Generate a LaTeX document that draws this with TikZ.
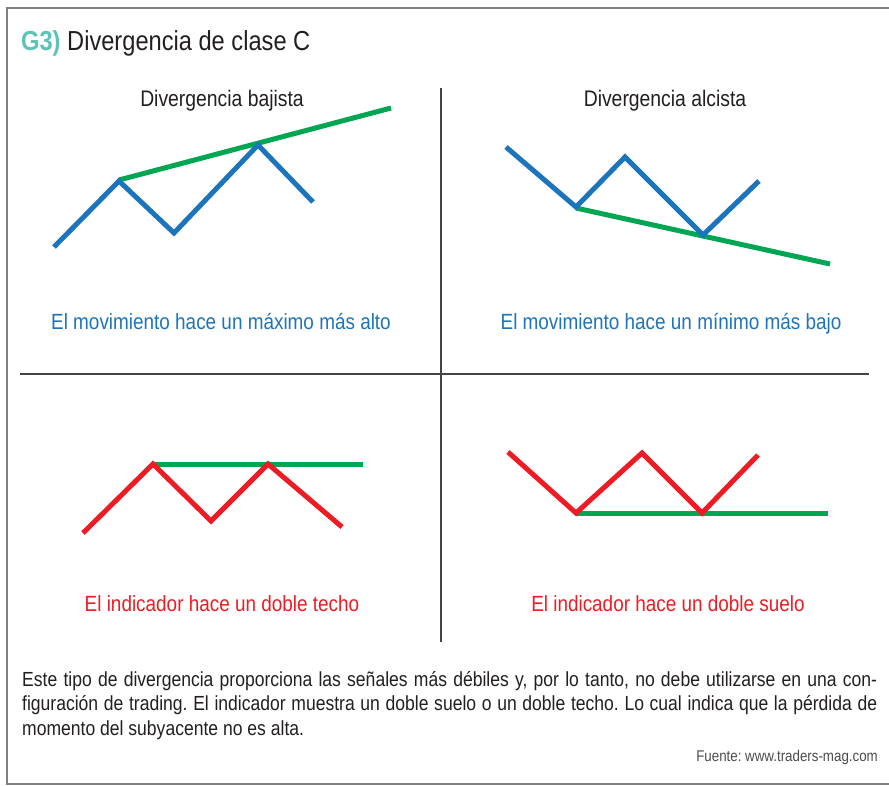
\documentclass[tikz,border=0pt]{standalone}
\usepackage{fontspec}
\setmainfont{Liberation Sans}[FakeStretch=0.86]
\definecolor{tealg}{HTML}{5BC4B6}
\definecolor{mblue}{HTML}{1C75BC}
\definecolor{mgreen}{HTML}{00A651}
\definecolor{mred}{HTML}{ED1C24}
\definecolor{ink}{HTML}{231F20}
\definecolor{rule}{HTML}{444444}
\begin{document}
\begin{tikzpicture}[x=1pt,y=-1pt,
  curve/.style={line width=5pt},
  trend/.style={line width=5pt, mgreen},
  head/.style={anchor=base, ink, font=\fontsize{22.5}{26}\selectfont},
  caption/.style={anchor=base, font=\fontsize{22}{26}\selectfont}]
\useasboundingbox (0,0) rectangle (889,785);
\draw[gray, line width=1.5pt] (889,8) -- (7,8) -- (7,784) -- (889,784);
% title
\node[anchor=base west, inner sep=0pt, font=\fontsize{27.5}{32}\selectfont] (title) at (21,50)
  {\textcolor{tealg}{\bfseries G3)} \textcolor{ink}{Divergencia de clase C}};
% dividers
\draw[rule, line width=2.5pt] (441,88) -- (441,642);
\draw[rule, line width=2.5pt] (20,374) -- (869,374);
% headings
\node[head] (h1) at (222,106) {Divergencia bajista};
\node[head] (h2) at (665,106) {Divergencia alcista};
% top left: higher high
\draw[trend] (119,180) -- (391,108);
\draw[curve, mblue] (54,247) -- (119,181) -- (174,233) -- (258,145) -- (313,202);
% top right: lower low
\draw[trend] (576,208) -- (830,264);
\draw[curve, mblue] (506,147) -- (576,207) -- (625,157) -- (703,235) -- (759,181);
\node[caption, mblue] (c1) at (221,329) {El movimiento hace un máximo más alto};
\node[caption, mblue] (c2) at (671,329) {El movimiento hace un mínimo más bajo};
% bottom left: double top
\draw[trend] (153,464) -- (363,464);
\draw[curve, mred] (83,533) -- (153,464) -- (211,521) -- (268,464) -- (342,527);
% bottom right: double bottom
\draw[trend] (576,513) -- (828,513);
\draw[curve, mred] (508,452) -- (576,513) -- (642,453) -- (702,513) -- (758,455);
\node[caption, mred] (c3) at (222,611) {El indicador hace un doble techo};
\node[caption, mred] (c4) at (668,611) {El indicador hace un doble suelo};
% footer
\node[anchor=north west, inner sep=0pt, text width=855pt, align=justify, ink,
  font=\fontsize{20.4}{24.5}\selectfont\frenchspacing] (note) at (22,671)
  {Este tipo de divergencia proporciona las señales más débiles y, por lo tanto, no debe utilizarse en una con-\linebreak figuración de trading. El indicador muestra un doble suelo o un doble techo. Lo cual indica que la pérdida de\linebreak momento del subyacente no es alta.};
\node[anchor=base east, inner sep=0pt, text=black!70, font=\fontsize{15.5}{18}\selectfont\frenchspacing] (src) at (878,761)
  {Fuente: www.traders-mag.com};
\end{tikzpicture}
\end{document}
